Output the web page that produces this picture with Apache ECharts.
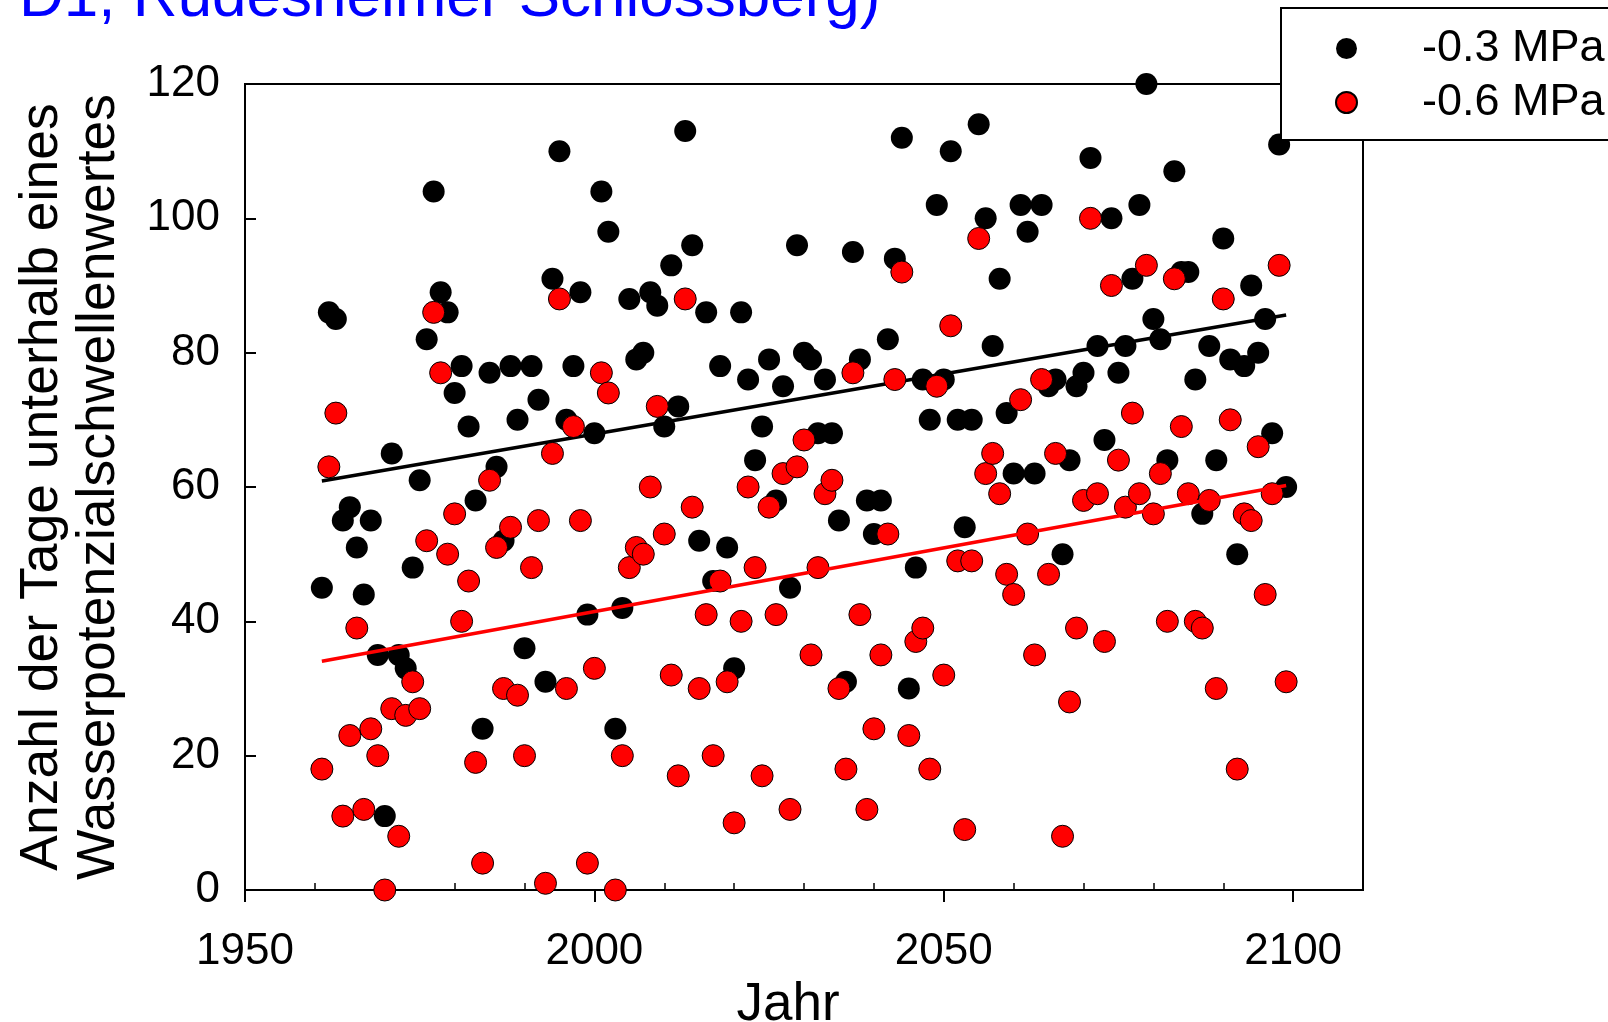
<!DOCTYPE html>
<html>
<head>
<meta charset="utf-8">
<script src="https://cdn.jsdelivr.net/npm/echarts@6/dist/echarts.min.js"></script>
<style>
html,body{margin:0;padding:0;background:#fff;}
#chart{width:1608px;height:1022px;}
</style>
</head>
<body>
<div id="chart"></div>
<script>
// Years (one value per year for each threshold)
const years = [
  1961,1962,1963,1964,1965,1966,1967,1968,1969,1970,
  1971,1972,1973,1974,1975,1976,1977,1978,1979,1980,
  1981,1982,1983,1984,1985,1986,1987,1988,1989,1990,
  1991,1992,1993,1994,1995,1996,1997,1998,1999,2000,
  2001,2002,2003,2004,2005,2006,2007,2008,2009,2010,
  2011,2012,2013,2014,2015,2016,2017,2018,2019,2020,
  2021,2022,2023,2024,2025,2026,2027,2028,2029,2030,
  2031,2032,2033,2034,2035,2036,2037,2038,2039,2040,
  2041,2042,2043,2044,2045,2046,2047,2048,2049,2050,
  2051,2052,2053,2054,2055,2056,2057,2058,2059,2060,
  2061,2062,2063,2064,2065,2066,2067,2068,2069,2070,
  2071,2072,2073,2074,2075,2076,2077,2078,2079,2080,
  2081,2082,2083,2084,2085,2086,2087,2088,2089,2090,
  2091,2092,2093,2094,2095,2096,2097,2098,2099
];
// Days below -0.3 MPa
const days03 = [
  45,86,85,55,57,51,44,55,35,11,
  65,35,33,48,61,82,104,89,86,74,
  78,69,58,24,77,63,52,78,70,36,
  78,73,31,91,110,70,78,89,41,68,
  104,98,24,42,88,79,80,89,87,69,
  93,72,113,96,52,86,46,78,51,33,
  86,76,64,69,79,58,75,45,96,80,
  79,68,76,68,55,31,95,79,58,53,
  58,82,94,112,30,48,76,70,102,76,
  110,70,54,70,114,100,81,91,71,62,
  102,98,62,102,75,76,50,64,75,77,
  109,81,67,100,77,81,91,102,120,85,
  82,64,107,92,92,76,56,81,64,97,
  79,50,78,90,80,85,68,111,60
];
// Days below -0.6 MPa
const days06 = [
  18,63,71,11,23,39,12,24,20,0,
  27,8,26,31,27,52,86,77,50,56,
  40,46,19,4,61,51,30,54,29,20,
  48,55,1,65,88,30,69,55,4,33,
  77,74,0,20,48,51,50,60,72,53,
  32,17,88,57,30,41,20,46,31,10,
  40,60,48,17,57,41,62,12,63,67,
  35,48,59,61,30,18,77,41,12,24,
  35,53,76,92,23,37,39,18,75,32,
  84,49,9,49,97,62,65,59,47,44,
  73,53,35,76,47,65,8,28,39,58,
  100,59,37,90,64,57,71,59,93,56,
  62,40,91,69,59,40,39,58,30,88,
  70,18,56,55,66,44,59,93,31
];
const seriesNames = ['-0.3 MPa', '-0.6 MPa'];
const xMajorTicks = [1950, 2000, 2050, 2100];
const xMinorTicks = [1960,1970,1980,1990,2010,2020,2030,2040,2060,2070,2080,2090];
const titleText = 'D1, Rüdesheimer Schlossberg)';
const xTitle = 'Jahr';
const yTitle = 'Anzahl der Tage unterhalb eines\nWasserpotenzialschwellenwertes';

function pairs(xs, ys) { return xs.map((x, i) => [x, ys[i]]); }
function fitLine(xs, ys) {
  const n = xs.length;
  let sx = 0, sy = 0, sxx = 0, sxy = 0;
  for (let i = 0; i < n; i++) { sx += xs[i]; sy += ys[i]; sxx += xs[i]*xs[i]; sxy += xs[i]*ys[i]; }
  const b = (n*sxy - sx*sy) / (n*sxx - sx*sx);
  const a = (sy - b*sx) / n;
  const x0 = xs[0], x1 = xs[n-1];
  return [[x0, a + b*x0], [x1, a + b*x1]];
}

const FONT = '"Liberation Sans", Arial, sans-serif';
const chart = echarts.init(document.getElementById('chart'), null, {renderer: 'canvas'});
chart.setOption({
  backgroundColor: '#ffffff',
  animation: false,
  graphic: [{
    type: 'text', x: 19, y: -1, z: 10,
    style: { text: titleText, font: '62px ' + FONT, fill: '#0000ff', verticalAlign: 'middle' }
  }],
  grid: { left: 245, right: 245, top: 84, bottom: 132, show: true, borderColor: '#000', borderWidth: 2,
          containLabel: false, outerBoundsMode: 'none' },
  legend: {
    data: seriesNames,
    orient: 'vertical',
    left: 1281, top: 8,
    padding: [18, 40, 15, 54],
    itemWidth: 21, itemHeight: 21, itemGap: 9,
    backgroundColor: '#ffffff', borderColor: '#000', borderWidth: 2,
    formatter: name => '{p|}' + name,
    textStyle: { fontSize: 45, lineHeight: 44, fontFamily: FONT, color: '#000', rich: { p: { width: 60 } } },
    z: 20
  },
  xAxis: [{
    type: 'value', min: 1950, max: 2110, interval: 50, position: 'bottom',
    name: xTitle, nameLocation: 'middle', nameGap: 83,
    nameTextStyle: { fontSize: 53, fontFamily: FONT, color: '#000', padding: [0, 32, 0, 0] },
    axisLine: { show: true, lineStyle: { color: '#000', width: 2 } },
    axisTick: { show: true, inside: false, length: 12, customValues: xMajorTicks, lineStyle: { color: '#000', width: 2 } },
    axisLabel: { show: true, margin: 40, fontSize: 44, fontFamily: FONT, color: '#000', customValues: xMajorTicks,
                 formatter: v => String(v) },
    splitLine: { show: false }
  }, {
    type: 'value', min: 1950, max: 2110, interval: 50, position: 'bottom', gridIndex: 0,
    axisLine: { show: false },
    axisTick: { show: true, inside: true, length: 7, customValues: xMinorTicks, lineStyle: { color: '#000', width: 1.5 } },
    axisLabel: { show: false },
    splitLine: { show: false }
  }],
  yAxis: {
    type: 'value', min: 0, max: 120, interval: 20,
    name: yTitle, nameLocation: 'middle', nameRotate: 90, nameGap: 117,
    nameTextStyle: { fontSize: 53.5, lineHeight: 57, fontFamily: FONT, color: '#000', align: 'center' },
    axisLine: { show: true, lineStyle: { color: '#000', width: 2 } },
    axisTick: { show: true, inside: true, length: 11, lineStyle: { color: '#000', width: 2 } },
    axisLabel: { margin: 25, fontSize: 44, fontFamily: FONT, color: '#000' },
    splitLine: { show: false }
  },
  series: [{
    name: seriesNames[0], type: 'scatter', xAxisIndex: 0, data: pairs(years, days03),
    symbol: 'circle', symbolSize: 22, clip: false, z: 2,
    itemStyle: { color: '#000000', borderColor: '#000', borderWidth: 0, opacity: 1 }
  }, {
    name: 'fit03', type: 'line', xAxisIndex: 0, data: fitLine(years, days03),
    symbol: 'none', z: 3, lineStyle: { color: '#000', width: 3.5 }, silent: true
  }, {
    name: seriesNames[1], type: 'scatter', xAxisIndex: 0, data: pairs(years, days06),
    symbol: 'circle', symbolSize: 22, clip: false, z: 4,
    itemStyle: { color: '#ff0000', borderColor: '#000', borderWidth: 1, opacity: 1 }
  }, {
    name: 'fit06', type: 'line', xAxisIndex: 0, data: fitLine(years, days06),
    symbol: 'none', z: 5, lineStyle: { color: '#ff0000', width: 3.5 }, silent: true
  }]
});
</script>
</body>
</html>
